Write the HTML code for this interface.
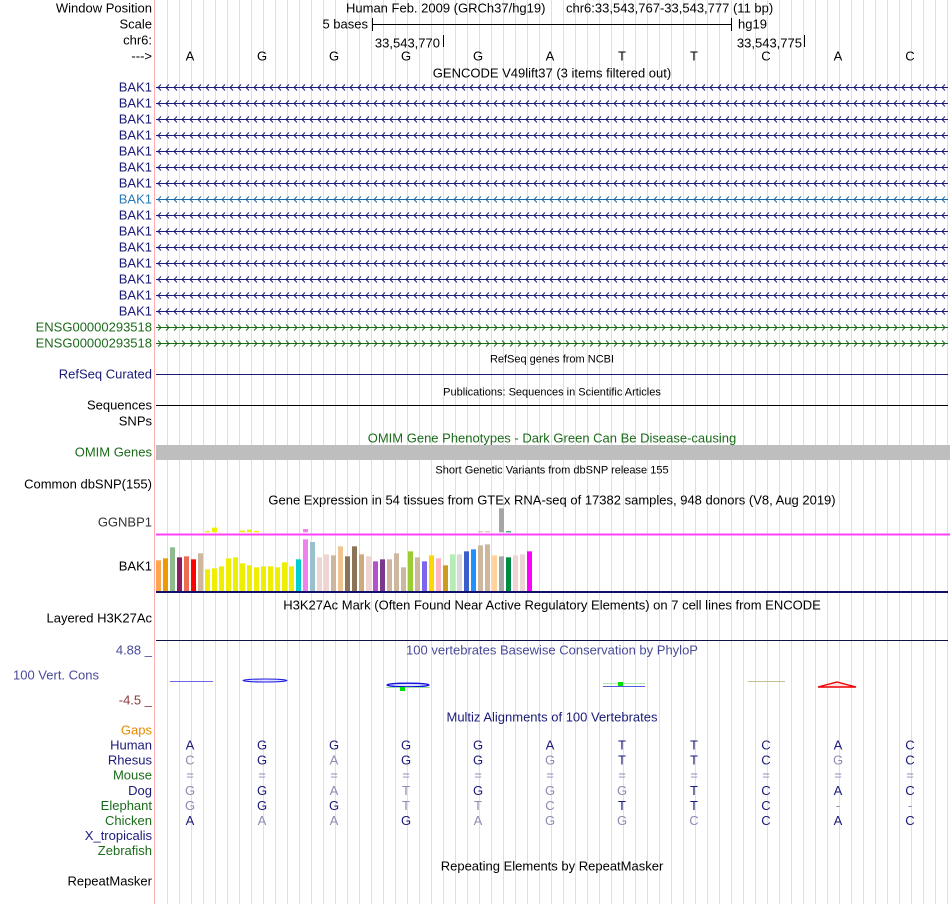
<!DOCTYPE html>
<html><head><meta charset="utf-8"><style>
html,body{margin:0;padding:0;background:#fff;}
svg{display:block;font-family:"Liberation Sans",sans-serif;}
</style></head><body>
<svg id="s" width="950" height="904" xmlns="http://www.w3.org/2000/svg">
<g id="grid"></g>
<line x1="154.5" y1="0" x2="154.5" y2="904" stroke="#ffb0b0" stroke-width="1"/>
<g id="labels" font-size="13" text-anchor="end"></g>
<g id="tracks"></g>
</svg>
<script>
const NS="http://www.w3.org/2000/svg";
const svg=document.getElementById('s');
const bases=["A","G","G","G","G","A","T","T","C","A","C"];
const gtexTissueColors=["#FFA54F","#EE9A00","#8FBC8F","#8B1C62","#EE6A50","#FF0000","#CDB79E","#EEEE00","#EEEE00","#EEEE00","#EEEE00","#EEEE00","#EEEE00","#EEEE00","#EEEE00","#EEEE00","#EEEE00","#EEEE00","#EEEE00","#EEEE00","#00CED1","#EE82EE","#9AC0CD","#EED5D2","#EED5D2","#CDB79E","#EEC591","#8B7355","#8B7355","#CDAA7D","#EED5D2","#B452CD","#7A378B","#CDB79E","#CDB79E","#CDB79E","#9ACD32","#CDB79E","#7A67EE","#FFD700","#FFB6C1","#CD9B1D","#B4EEB4","#D9D9D9","#3A5FCD","#1E90FF","#CDB79E","#CDB79E","#FFD39B","#A6A6A6","#008B45","#EED5D2","#EED5D2","#FF00FF"];
const bak1Expr=[92,98,131,101,104,95,113,65,68,74,98,101,83,77,71,74,74,71,86,74,95,155,147,101,110,107,134,104,134,110,104,89,95,95,113,71,119,101,89,107,98,77,110,110,119,125,137,140,107,104,101,107,110,119];
const ggnbp1Expr=[0,0,0,0,0,0,0,4,14,0,0,0,5,8,4,0,0,0,0,0,0,10,0,0,0,0,0,0,0,0,0,0,0,0,0,0,0,0,0,0,0,0,0,0,0,0,3,3,0,72,3,0,0,0];
const species=["Human","Rhesus","Mouse","Dog","Elephant","Chicken","X_tropicalis","Zebrafish"];
const speciesColors=["#1a1a7a","#1a1a7a","#1a6b1a","#1a1a7a","#1a6b1a","#1a6b1a","#1a1a7a","#1a6b1a"];
const alignments=["AGGGGATTCAC","CGAGGGTTCGC","===========","GGATGGGTCAC","GGGTTCTTC--","AAAGAGGCCAC","",""];

function el(tag,attrs,parent,text){const e=document.createElementNS(NS,tag);for(const k in attrs)e.setAttribute(k,attrs[k]);if(text!==undefined)e.textContent=text;(parent||svg).appendChild(e);return e;}
const X0=156,X1=948,BW=72;
const baseX=i=>190+i*BW;
const grid=document.getElementById('grid'),labels=document.getElementById('labels'),tracks=document.getElementById('tracks');
for(let x=167.5;x<950;x+=12){el('line',{x1:x,y1:0,x2:x,y2:904,stroke:'#dcdcf8'},grid);}
function label(t,y,color){const e=el('text',{x:152,y:y+4.5,fill:color||'#000'},labels,t);

}
function title(t,y,size,color){const e=el('text',{x:552,y:y+4.5,'font-size':size||13,'text-anchor':'middle',fill:color||'#000'},tracks,t);

}
// header
label("Window Position",8);label("Scale",24);label("chr6:",40);label("--->",56);
el('text',{x:346,y:12.5,'font-size':13},tracks,"Human Feb. 2009 (GRCh37/hg19)");
el('text',{x:566,y:12.5,'font-size':13},tracks,"chr6:33,543,767-33,543,777 (11 bp)");
el('text',{x:368,y:28.5,'font-size':13,'text-anchor':'end'},tracks,"5 bases");
el('line',{x1:372,y1:24.5,x2:732,y2:24.5,stroke:'#000'},tracks);
el('line',{x1:372.5,y1:18,x2:372.5,y2:31,stroke:'#000'},tracks);
el('line',{x1:731.5,y1:18,x2:731.5,y2:31,stroke:'#000'},tracks);
el('text',{x:738,y:28.5,'font-size':13},tracks,"hg19");
el('text',{x:440,y:47.5,'font-size':13,'text-anchor':'end'},tracks,"33,543,770");
el('line',{x1:443.5,y1:35,x2:443.5,y2:47,stroke:'#000'},tracks);
el('text',{x:802,y:47.5,'font-size':13,'text-anchor':'end'},tracks,"33,543,775");
el('line',{x1:804.5,y1:35,x2:804.5,y2:47,stroke:'#000'},tracks);
bases.forEach((b,i)=>{const t=el('text',{x:baseX(i),y:60.5,'font-size':13,'text-anchor':'middle'},tracks,b);

});
title("GENCODE V49lift37 (3 items filtered out)",73);
// gene rows
function geneRow(y,color,dir){const g=el('g',{stroke:color,fill:'none','stroke-width':1},tracks);


el('line',{x1:X0,y1:y+.5,x2:X1,y2:y+.5},g);
let d='';for(let x=X0+2;x<X1-3;x+=8){ if(dir<0)d+=`M${x+3},${y-2.5}L${x},${y+.5}L${x+3},${y+3.5}`; else d+=`M${x},${y-2.5}L${x+3},${y+.5}L${x},${y+3.5}`;}
el('path',{d:d},g);}
for(let i=0;i<15;i++){const y=87+i*16;const c=i===7?'#2a7ab8':'#1a1a7a';label("BAK1",y,c);geneRow(y,i===7?'#1e6aa8':'#1a1a7a',-1);}
[327,343].forEach(y=>{label("ENSG00000293518",y,'#1a6b1a');geneRow(y,'#1a6b1a',1);});
title("RefSeq genes from NCBI",358,11);
label("RefSeq Curated",374,'#1a1a7a');el('line',{x1:X0,y1:374.5,x2:X1,y2:374.5,stroke:'#1a1a7a'},tracks);
title("Publications: Sequences in Scientific Articles",391,11);
label("Sequences",405);label("SNPs",421);el('line',{x1:X0,y1:405.5,x2:X1,y2:405.5,stroke:'#000'},tracks);
title("OMIM Gene Phenotypes - Dark Green Can Be Disease-causing",438,13,'#1a6b1a');
label("OMIM Genes",452,'#1a6b1a');el('rect',{x:X0,y:445,width:X1-X0+2,height:15,fill:'#bebebe'},tracks);
title("Short Genetic Variants from dbSNP release 155",469,11);
label("Common dbSNP(155)",484);
title("Gene Expression in 54 tissues from GTEx RNA-seq of 17382 samples, 948 donors (V8, Aug 2019)",500);
// GTEx
label("GGNBP1",522,'#333');label("BAK1",566,'#000');
const barX=i=>X0+i*7;
const ggBase=532.3,bkBase=591;
const yG=v=>v/3;
ggnbp1Expr.forEach((v,i)=>{if(v<=0)return;const h=yG(v);const r=el('rect',{x:barX(i),y:ggBase-h,width:5,height:h,fill:gtexTissueColors[i]},tracks);

});
el('rect',{x:X0,y:533.5,width:950-X0,height:2,fill:'#ff40ff'},tracks);
bak1Expr.forEach((v,i)=>{const h=yG(v);const r=el('rect',{x:barX(i),y:bkBase-h,width:5,height:h,fill:gtexTissueColors[i]},tracks);

});
el('rect',{x:X0,y:591,width:X1-X0,height:2,fill:'#10106a'},tracks);
title("H3K27Ac Mark (Often Found Near Active Regulatory Elements) on 7 cell lines from ENCODE",605);
label("Layered H3K27Ac",618);
el('line',{x1:X0,y1:640.5,x2:X1,y2:640.5,stroke:'#10104a'},tracks);
// conservation
title("100 vertebrates Basewise Conservation by PhyloP",650,13,'#4a4a9a');
el('text',{x:152,y:654.5,'font-size':13,'text-anchor':'end',fill:'#4a4a9a'},labels,"4.88 _");
el('text',{x:13,y:679.5,'font-size':13,fill:'#4a4a9a','text-anchor':'start'},labels,"100 Vert. Cons");
el('text',{x:152,y:704.5,'font-size':13,'text-anchor':'end',fill:'#8b3a3a'},labels,"-4.5 _");
el('line',{x1:170,y1:681.5,x2:213,y2:681.5,stroke:'#6a6ae0'},tracks);
el('ellipse',{cx:265,cy:680.5,rx:22,ry:1.5,fill:'#e0e0ff',stroke:'#2020e0','stroke-width':1},tracks);
el('ellipse',{cx:408,cy:685,rx:21,ry:1.8,fill:'#e0e0ff',stroke:'#1010e0','stroke-width':1.3},tracks);
el('line',{x1:386,y1:687.5,x2:430,y2:687.5,stroke:'#a0e0a0'},tracks);
el('rect',{x:400,y:687,width:5,height:4,fill:'#00e000'},tracks);
el('line',{x1:603,y1:686.5,x2:645,y2:686.5,stroke:'#5a5ae0'},tracks);
el('line',{x1:603,y1:683.5,x2:645,y2:683.5,stroke:'#b0e8b0'},tracks);
el('rect',{x:618,y:682,width:5,height:4,fill:'#00e000'},tracks);
el('line',{x1:748,y1:681.5,x2:785,y2:681.5,stroke:'#c0c090'},tracks);
el('path',{d:'M818,687 L837,682 L856,687 Z',fill:'#ffe0e0',stroke:'#ee0000','stroke-width':1.4},tracks);
// multiz
label("Gaps",730,'#e88a00');
title("Multiz Alignments of 100 Vertebrates",717,13,'#1a1a7a');
species.forEach((s,r)=>{const y=745+r*15.1;label(s,y,speciesColors[r]);
const seq=alignments[r];for(let i=0;i<seq.length;i++){const ch=seq[i];const match=ch===alignments[0][i];
const t=el('text',{x:baseX(i),y:y+4.5,'font-size':13,'text-anchor':'middle',fill:(r===0||match)?'#1a1a7a':'#8c8cb4'},tracks,ch);

}});
title("Repeating Elements by RepeatMasker",866);
label("RepeatMasker",881);
</script>
</body></html>
